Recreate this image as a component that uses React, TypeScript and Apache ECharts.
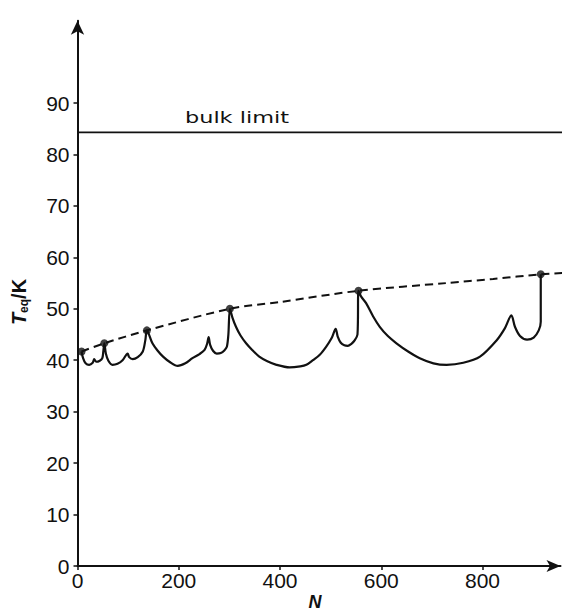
import React, { useEffect, useRef } from "react";
import * as echarts from "echarts";

// Axis ticks
const xTicks = [0, 200, 400, 600, 800];
const yTicks = [0, 10, 20, 30, 40, 50, 60, 70, 80, 90];

// Main curve T_eq(N)
const curveN = [
  8, 11, 16, 23, 30, 33, 37, 44, 49, 51, 53,
  56, 61, 69, 79, 89, 99, 102, 109, 119, 129, 134, 137,
  148, 158, 169, 183, 198, 213, 227, 241, 251, 256, 259, 262, 268, 275, 283, 290, 295, 298, 301,
  306, 313, 322, 333, 345, 359, 375, 393, 419, 440, 452, 465, 478, 491, 502, 510, 514, 520, 527, 534, 541, 547, 553, 555,
  560, 570, 584, 597, 613, 630, 653, 676, 703, 729, 762, 795, 828, 844, 857, 864, 874, 888, 901, 911, 915, 915,
];
const curveT = [
  41.7, 40.4, 39.4, 39.1, 39.5, 40.2, 39.7, 39.9, 40.4, 41.7, 43.3,
  41.3, 39.9, 39.1, 39.3, 40.0, 41.3, 40.6, 40.2, 40.6, 41.7, 43.9, 45.8,
  43.3, 41.9, 40.7, 39.6, 38.9, 39.4, 40.4, 41.2, 42.0, 43.2, 44.5, 43.0, 41.8, 41.3, 41.4, 41.9, 42.6, 45.0, 50.0,
  48.3, 46.5, 44.8, 43.3, 42.0, 40.7, 39.8, 39.1, 38.6, 38.8, 39.1, 40.0, 41.0, 42.6, 44.3, 46.1, 44.6, 43.4, 42.9, 42.8, 43.2, 43.8, 45.0, 53.5,
  52.4, 51.1, 48.5, 46.5, 44.7, 43.3, 41.7, 40.4, 39.4, 39.1, 39.5, 40.7, 43.9, 46.2, 48.7, 46.5, 44.7, 44.0, 44.4, 45.8, 47.5, 56.7,
];

// Magic-number dots
const magicN = [8, 53, 137, 301, 555, 915];
const magicT = [41.7, 43.3, 45.8, 50.0, 53.5, 56.7];

// Dashed envelope through the dots
const envelopeN = [8, 53, 137, 301, 399, 555, 729, 821, 915, 966];
const envelopeT = [41.7, 43.3, 45.8, 50.0, 51.3, 53.5, 55.0, 55.8, 56.7, 57.0];

// Bulk limit
const bulkLimit = 84.3;
const bulkN = [0, 966];

const INK = "#111111";
const FONT = "'Liberation Sans', Arial, sans-serif";

export default function App() {
  const ref = useRef<HTMLDivElement>(null);

  useEffect(() => {
    if (!ref.current) return;
    const chart = echarts.init(ref.current, undefined, { renderer: "svg" });

    const curve = curveN.map((n, i) => [n, curveT[i]]);
    const dots = magicN.map((n, i) => [n, magicT[i]]);
    const envelope = envelopeN.map((n, i) => [n, envelopeT[i]]);
    const bulk = bulkN.map((n) => [n, bulkLimit]);

    chart.setOption({
      animation: false,
      backgroundColor: "#ffffff",
      grid: { left: 77.5, right: 7.5, top: 20.7, bottom: 47, containLabel: false },
      xAxis: {
        type: "value",
        min: 0,
        max: 954,
        splitLine: { show: false },
        axisLine: {
          onZero: false,
          lineStyle: { color: INK, width: 2 },
          symbol: ["none", "arrow"],
          symbolSize: [9, 14],
        },
        axisTick: { show: true, inside: false, length: 4, lineStyle: { color: INK, width: 1.5 }, customValues: xTicks },
        axisLabel: { color: INK, fontSize: 21, fontFamily: FONT, margin: 4, customValues: xTicks },
      },
      yAxis: {
        type: "value",
        min: 0,
        max: 106,
        splitLine: { show: false },
        axisLine: {
          show: true,
          onZero: false,
          lineStyle: { color: INK, width: 2 },
          symbol: ["none", "arrow"],
          symbolSize: [10, 14],
        },
        axisTick: { show: true, inside: false, length: 4, lineStyle: { color: INK, width: 1.5 }, customValues: yTicks },
        axisLabel: { color: INK, fontSize: 21, fontFamily: FONT, margin: 8, customValues: yTicks },
      },
      series: [
        {
          type: "line",
          data: bulk,
          clip: false,
          showSymbol: false,
          lineStyle: { color: INK, width: 1.8 },
          silent: true,
        },
        {
          type: "line",
          data: envelope,
          clip: false,
          showSymbol: false,
          smooth: 0.3,
          lineStyle: { color: INK, width: 2, type: [8, 5] },
          silent: true,
        },
        {
          type: "line",
          data: curve,
          clip: false,
          showSymbol: false,
          smooth: 0.3,
          lineStyle: { color: INK, width: 2.2 },
          silent: true,
        },
        {
          type: "scatter",
          data: dots,
          symbolSize: 8,
          itemStyle: { color: INK },
          silent: true,
        },
      ],
      graphic: [
        {
          type: "text",
          x: 185,
          y: 117.5,
          scaleX: 1.4,
          style: {
            text: "bulk limit",
            fill: INK,
            font: "16px 'DejaVu Sans', sans-serif",
            align: "left",
            verticalAlign: "middle",
          },
        },
        {
          type: "text",
          x: 315,
          y: 602,
          style: {
            text: "N",
            fill: INK,
            font: "italic bold 18px " + FONT,
            align: "center",
            verticalAlign: "middle",
          },
        },
        {
          type: "text",
          x: 19,
          y: 302,
          rotation: Math.PI / 2,
          style: {
            text: "{t|T}{s|eq}{k|/K}",
            fill: INK,
            align: "center",
            verticalAlign: "middle",
            rich: {
              t: { fontSize: 20, fontWeight: "bold", fontStyle: "italic", fontFamily: FONT, fill: INK },
              s: { fontSize: 12, fontWeight: "bold", fontFamily: FONT, fill: INK, padding: [10, 0, 0, 0] },
              k: { fontSize: 20, fontWeight: "bold", fontFamily: FONT, fill: INK },
            },
          },
        },
      ],
    });

    return () => chart.dispose();
  }, []);

  return (
    <div
      ref={ref}
      style={{ position: "absolute", left: 0, top: 0, width: 568, height: 613 }}
    />
  );
}
